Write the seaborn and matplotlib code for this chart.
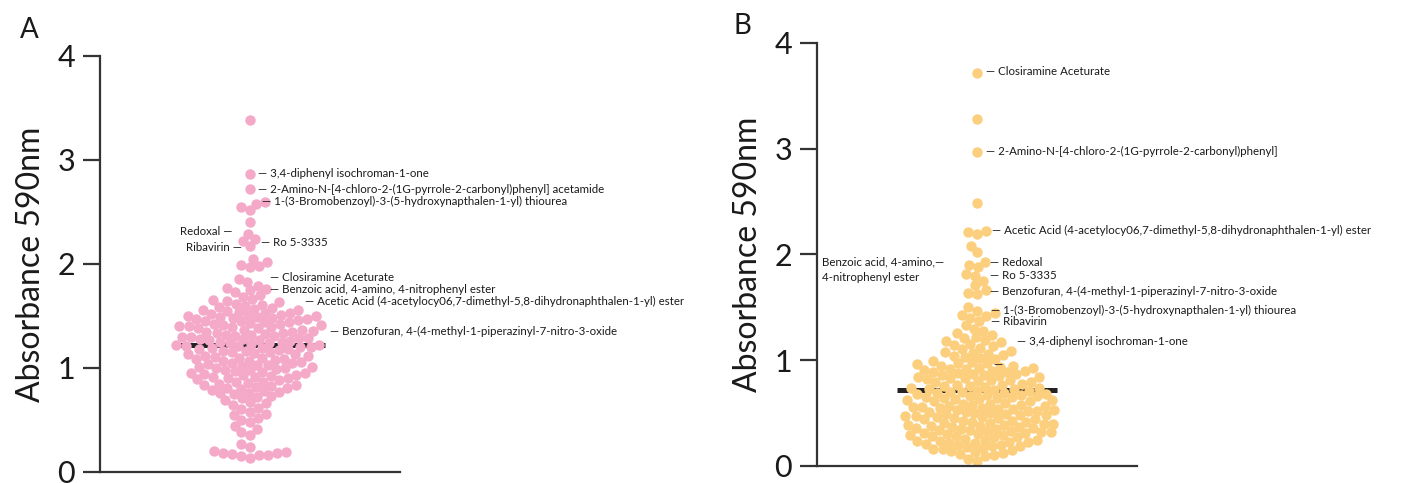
import matplotlib.pyplot as plt
import seaborn as sns

sns.set_theme(style='white')
plt.rcParams['font.family'] = ['Lato', 'DejaVu Sans']

# absorbance values, panel A (pink)
abs_a = [3.38, 2.87, 2.72, 2.60, 2.58, 2.55, 2.52, 2.40, 2.29, 2.24, 2.22, 2.17,
         2.05, 2.02, 1.99, 1.98, 1.97, 1.86, 1.83, 1.79, 1.77, 1.76, 1.75, 1.73, 1.70,
         1.68, 1.66, 1.65, 1.64, 1.63, 1.62, 1.61, 1.60,
         1.59, 1.58, 1.57, 1.56, 1.56, 1.55, 1.54, 1.53, 1.53, 1.52, 1.51, 1.51, 1.50, 1.50,
         1.49, 1.49, 1.48, 1.48, 1.47, 1.47, 1.46, 1.45, 1.45, 1.44, 1.44, 1.43, 1.42, 1.42,
         1.41, 1.41, 1.40, 1.40,
         1.39, 1.39, 1.38, 1.38, 1.37, 1.37, 1.36, 1.35, 1.35, 1.34, 1.34, 1.33, 1.32, 1.32,
         1.31, 1.31, 1.30, 1.30,
         1.29, 1.29, 1.28, 1.28, 1.27, 1.27, 1.26, 1.25, 1.25, 1.24, 1.24, 1.23, 1.22, 1.22,
         1.21, 1.21, 1.20, 1.20,
         1.19, 1.19, 1.18, 1.18, 1.17, 1.16, 1.16, 1.15, 1.15, 1.14, 1.13, 1.13, 1.12, 1.12,
         1.11, 1.10, 1.10,
         1.09, 1.09, 1.08, 1.07, 1.07, 1.06, 1.05, 1.05, 1.04, 1.03, 1.03, 1.02, 1.01, 1.01,
         1.00, 1.00,
         0.99, 0.98, 0.98, 0.97, 0.96, 0.95, 0.95, 0.94, 0.93, 0.93, 0.92, 0.91, 0.91, 0.90, 0.90,
         0.89, 0.88, 0.87, 0.87, 0.86, 0.85, 0.84, 0.84, 0.83, 0.82, 0.81, 0.81, 0.80,
         0.79, 0.78, 0.77, 0.76, 0.76, 0.75, 0.73, 0.72, 0.71,
         0.69, 0.67, 0.66, 0.64, 0.62, 0.61,
         0.58, 0.56, 0.55, 0.52, 0.50,
         0.48, 0.44, 0.41, 0.38, 0.36, 0.27, 0.24,
         0.20, 0.19, 0.18, 0.18, 0.17, 0.16, 0.16, 0.15, 0.13]

# absorbance values, panel B (orange)
abs_b = [3.72, 3.28, 2.97, 2.49, 2.22, 2.21, 2.19, 2.08, 2.02, 1.93, 1.90, 1.88,
         1.82, 1.80, 1.75, 1.71, 1.66, 1.64, 1.63, 1.50, 1.47, 1.45, 1.43, 1.42, 1.40,
         1.37, 1.33, 1.30, 1.28, 1.26, 1.24, 1.22, 1.21,
         1.19, 1.18, 1.17, 1.15, 1.14, 1.13, 1.12, 1.11,
         1.09, 1.08, 1.07, 1.06, 1.05, 1.04, 1.03, 1.02, 1.01,
         0.99, 0.98, 0.97, 0.97, 0.96, 0.95, 0.95, 0.94, 0.93, 0.93, 0.92, 0.92, 0.91, 0.90, 0.90,
         0.89, 0.89, 0.88, 0.87, 0.87, 0.86, 0.86, 0.85, 0.84, 0.84, 0.83, 0.83, 0.82, 0.81, 0.81,
         0.80,
         0.79, 0.79, 0.78, 0.77, 0.77, 0.76, 0.76, 0.75, 0.74, 0.74, 0.73, 0.73, 0.72, 0.71, 0.71,
         0.70, 0.70,
         0.69, 0.69, 0.68, 0.68, 0.67, 0.67, 0.66, 0.66, 0.65, 0.65, 0.64, 0.64, 0.63, 0.63, 0.62,
         0.62, 0.61, 0.61, 0.60,
         0.59, 0.59, 0.58, 0.58, 0.57, 0.57, 0.56, 0.56, 0.55, 0.55, 0.54, 0.54, 0.53, 0.53, 0.52,
         0.52, 0.51, 0.51, 0.50, 0.50,
         0.49, 0.49, 0.48, 0.48, 0.47, 0.47, 0.46, 0.46, 0.45, 0.45, 0.44, 0.44, 0.43, 0.43, 0.42,
         0.42, 0.41, 0.41, 0.40, 0.40,
         0.39, 0.39, 0.38, 0.38, 0.37, 0.37, 0.36, 0.36, 0.35, 0.35, 0.34, 0.34, 0.33, 0.33, 0.32,
         0.32, 0.31, 0.31, 0.30, 0.30,
         0.29, 0.29, 0.28, 0.28, 0.27, 0.27, 0.26, 0.25, 0.25, 0.24, 0.24, 0.23, 0.23, 0.22, 0.22,
         0.21, 0.20, 0.20,
         0.19, 0.19, 0.18, 0.17, 0.16, 0.16, 0.15, 0.14, 0.13, 0.12, 0.11, 0.10,
         0.09, 0.07, 0.05]

mean_a = 1.22
mean_b = 0.72

# labelled compounds
names_a = ['3,4-diphenyl isochroman-1-one',
           '2-Amino-N-[4-chloro-2-(1G-pyrrole-2-carbonyl)phenyl] acetamide',
           '1-(3-Bromobenzoyl)-3-(5-hydroxynapthalen-1-yl) thiourea',
           'Redoxal', 'Ribavirin', 'Ro 5-3335', 'Closiramine Aceturate',
           'Benzoic acid, 4-amino, 4-nitrophenyl ester',
           'Acetic Acid (4-acetylocy06,7-dimethyl-5,8-dihydronaphthalen-1-yl) ester',
           'Benzofuran, 4-(4-methyl-1-piperazinyl-7-nitro-3-oxide']
label_y_a = [2.87, 2.72, 2.60, 2.31, 2.16, 2.21, 1.87, 1.75, 1.64, 1.35]
label_dx_a = [0.043, 0.043, 0.064, -0.096, -0.043, 0.059, 0.107, 0.107, 0.293, 0.427]

names_b = ['Closiramine Aceturate',
           '2-Amino-N-[4-chloro-2-(1G-pyrrole-2-carbonyl)phenyl]',
           'Acetic Acid (4-acetylocy06,7-dimethyl-5,8-dihydronaphthalen-1-yl) ester',
           'Redoxal', 'Ro 5-3335',
           'Benzofuran, 4-(4-methyl-1-piperazinyl-7-nitro-3-oxide',
           '1-(3-Bromobenzoyl)-3-(5-hydroxynapthalen-1-yl) thiourea',
           'Ribavirin', '3,4-diphenyl isochroman-1-one', '']
label_y_b = [3.73, 2.97, 2.23, 1.92, 1.80, 1.65, 1.47, 1.37, 1.18, 0.96]
label_dx_b = [0.045, 0.045, 0.075, 0.065, 0.065, 0.065, 0.07, 0.07, 0.2, 0.08]

pink = '#F5A9C8'
orange = '#FCCF7E'
axis_col = '#333333'
text_col = '#1a1a1a'

fig = plt.figure(figsize=(14.23, 4.83), dpi=100)
ax_a = fig.add_axes([0.0703, 0.0228, 0.2108, 0.8613])
ax_b = fig.add_axes([0.5741, 0.0352, 0.2249, 0.8758])


def style_axis(ax):
    ax.set_xlim(-0.8, 0.8)
    ax.set_ylim(0, 4)
    ax.set_yticks([0, 1, 2, 3, 4])
    ax.set_xticks([])
    for side in ['top', 'right']:
        ax.spines[side].set_visible(False)
    for side in ['left', 'bottom']:
        ax.spines[side].set_color(axis_col)
        ax.spines[side].set_linewidth(1.6)
    ax.tick_params(axis='y', direction='out', length=12, width=1.6, color=axis_col,
                   labelsize=22, labelcolor=text_col, pad=6, left=True)
    ax.set_ylabel('Absorbance 590nm', fontsize=23, color=text_col, labelpad=8)
    ax.set_xlabel('')


swarms = []
for ax, vals, col, mean in [(ax_a, abs_a, pink, mean_a), (ax_b, abs_b, orange, mean_b)]:
    ax.hlines(mean, -0.4, 0.4, color='#222222', linewidth=3.6, zorder=1)
    sns.swarmplot(y=vals, ax=ax, color=col, size=6.3, linewidth=0, zorder=2,
                  warn_thresh=1.0)
    swarms.append(ax.collections[-1])
    style_axis(ax)

# lay the swarm out first, then draw the dots a bit bigger so they overlap
fig.canvas.draw()
for coll in swarms:
    if 'draw' in coll.__dict__:
        del coll.draw
    coll.set_sizes([7.5 ** 2])

for name, y, dx in zip(names_a, label_y_a, label_dx_a):
    if dx < 0:
        ax_a.text(dx, y, name + ' \u2014', ha='right', va='center', fontsize=8.3,
                  color=text_col, clip_on=False)
    else:
        ax_a.text(dx, y, '\u2014 ' + name, ha='left', va='center',
                  fontsize=8.3, color=text_col, clip_on=False)

for name, y, dx in zip(names_b, label_y_b, label_dx_b):
    ax_b.text(dx, y, '\u2014 ' + name if name else '\u2014', ha='left', va='center',
              fontsize=8.3, color=text_col, clip_on=False)

ax_b.text(-0.775, 1.93, 'Benzoic acid, 4-amino,\u2014', ha='left', va='center',
          fontsize=8.3, color=text_col)
ax_b.text(-0.775, 1.78, '4-nitrophenyl ester', ha='left', va='center',
          fontsize=8.3, color=text_col)

fig.text(20 / 1423, 1 - 30 / 483, 'A', fontsize=20, ha='left', va='center', color=text_col)
fig.text(733 / 1423, 1 - 26 / 483, 'B', fontsize=20, ha='left', va='center', color=text_col)

fig.savefig('out.png', dpi=100)
